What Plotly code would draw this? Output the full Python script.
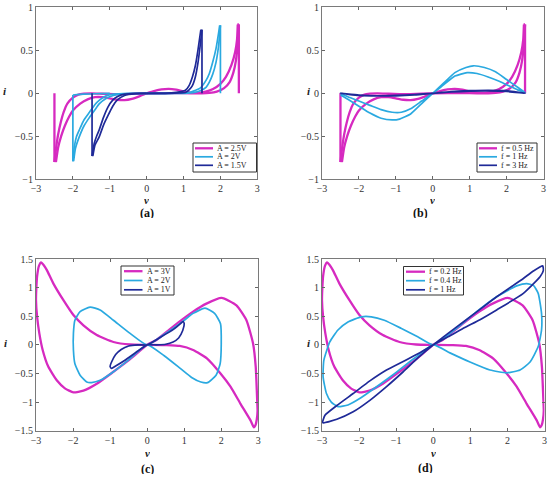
import plotly.graph_objects as go

W, H = 550, 481
MAG, LBL, DBL = '#d62ac0', '#2aa9e0', '#1f2a98'
FONT = 'Liberation Serif'

# ---------------- data ----------------
# Panel (a)/(b): A = 2.5 V, f = 0.5 Hz
m25_v = [-2.5, -2.5, None,
         -2.5, -2.45, -2.4, -2.33, -2.25, -2.15, -2.0, -1.85, -1.7, -1.5, -1.2, -0.9, -0.6, -0.3, 0, None,
         -2.46, -2.4, -2.32, -2.22, -2.1, -2.0, -1.8, -1.6, -1.4, -1.2, -1.0, -0.8, -0.6, -0.4, -0.2, 0, None,
         0, 0.2, 0.4, 0.6, 0.8, 1.0, 1.2, 1.4, 1.6, 1.8, 2.0, 2.15, 2.3, 2.4, 2.45, 2.47, None,
         0, 0.4, 0.8, 1.2, 1.5, 1.7, 1.9, 2.1, 2.25, 2.35, 2.42, 2.47, 2.5, None,
         2.46, 2.5, None, 2.5, 2.5]
m25_i = [0, -0.8, None,
         -0.8, -0.62, -0.48, -0.34, -0.22, -0.12, -0.05, -0.015, -0.005, 0, -0.005, -0.01, -0.01, -0.005, 0, None,
         -0.8, -0.63, -0.5, -0.38, -0.27, -0.2, -0.12, -0.07, -0.045, -0.045, -0.058, -0.075, -0.08, -0.065, -0.035, 0, None,
         0, 0.025, 0.045, 0.052, 0.042, 0.022, 0.008, 0.006, 0.02, 0.05, 0.11, 0.19, 0.33, 0.48, 0.62, 0.8, None,
         0, 0.003, 0.003, 0, 0, 0.005, 0.02, 0.06, 0.13, 0.24, 0.38, 0.58, 0.8, None,
         0.8, 0.8, None, 0.8, 0]

# Panel (a): A = 2 V
a20_v = [-2.0, -2.0, None,
         -2.0, -1.7, -1.4, -1.0, None,
         -2.0, -1.96, -1.9, -1.83, -1.7, -1.55, -1.4, -1.28, -1.1, -0.9, -0.5, 0, None,
         -1.98, -1.93, -1.83, -1.7, -1.55, -1.4, -1.28, -1.1, -0.9, -0.6, 0, None,
         0, 0.5, 1.0, 1.2, 1.45, 1.61, 1.7, 1.79, 1.88, 1.95, 1.98, None,
         0, 0.6, 1.0, 1.3, 1.45, 1.61, 1.7, 1.79, 1.88, 1.95, 2.0, None,
         2.0, 2.0]
a20_i = [-0.02, -0.79, None,
         -0.02, -0.01, -0.005, 0, None,
         -0.79, -0.62, -0.5, -0.43, -0.31, -0.22, -0.13, -0.08, -0.03, -0.01, 0, 0, None,
         -0.79, -0.64, -0.51, -0.38, -0.28, -0.19, -0.12, -0.06, -0.025, -0.005, 0, None,
         0, 0, 0.005, 0.015, 0.06, 0.15, 0.23, 0.36, 0.52, 0.7, 0.79, None,
         0, 0, 0, 0.01, 0.03, 0.07, 0.13, 0.22, 0.36, 0.55, 0.79, None,
         0.79, 0]

# Panel (a): A = 1.5 V
a15_v = [-1.48, -1.48, None,
         -1.48, -1.42, -1.35, -1.29, -1.17, -1.05, -0.92, -0.8, -0.6, -0.3, 0, None,
         -1.46, -1.4, -1.29, -1.17, -1.05, -0.92, -0.8, -0.6, -0.3, 0, None,
         0, 0.5, 0.8, 1.05, 1.15, 1.24, 1.32, 1.39, 1.44, 1.47, None,
         0, 0.6, 0.9, 1.05, 1.15, 1.24, 1.32, 1.39, 1.45, 1.5, None,
         1.5, 1.5]
a15_i = [0, -0.73, None,
         -0.73, -0.58, -0.49, -0.43, -0.28, -0.16, -0.08, -0.04, -0.01, 0, 0, None,
         -0.73, -0.6, -0.51, -0.37, -0.26, -0.15, -0.08, -0.025, -0.005, 0, None,
         0, 0, 0.01, 0.035, 0.09, 0.19, 0.32, 0.5, 0.65, 0.74, None,
         0, 0, 0.005, 0.01, 0.04, 0.09, 0.19, 0.35, 0.55, 0.74, None,
         0.74, 0]

# Panel (b): f = 1 Hz
b1_v = [-2.5, -2.3, -2.0, -1.7, -1.4, -1.1, -0.9, -0.6, -0.3, 0,
        0.3, 0.6, 0.9, 1.1, 1.4, 1.7, 2.0, 2.3, 2.5,
        2.3, 2.1, 1.8, 1.5, 1.2, 0.93, 0.6, 0.3, 0,
        -0.3, -0.6, -0.85, -1.1, -1.4, -1.7, -2.0, -2.3, -2.5]
b1_i = [-0.02, -0.07, -0.15, -0.23, -0.29, -0.31, -0.3, -0.24, -0.12, 0,
        0.12, 0.24, 0.3, 0.32, 0.3, 0.25, 0.16, 0.07, 0.01,
        0.04, 0.08, 0.14, 0.19, 0.23, 0.24, 0.2, 0.1, 0,
        -0.09, -0.18, -0.22, -0.22, -0.19, -0.14, -0.09, -0.04, 0.0]

# Panel (b): f = 3 Hz
b3_v = [-2.5, -2, -1.5, -1, -0.5, 0, 0.5, 1, 1.5, 2, 2.5,
        2, 1.5, 1, 0.5, 0, -0.5, -1, -1.5, -2, -2.5]
b3_i = [0, -0.02, -0.03, -0.03, -0.02, 0, 0.02, 0.03, 0.035, 0.03, 0,
        0.022, 0.028, 0.025, 0.015, 0, -0.015, -0.025, -0.03, -0.025, 0]

# Panels (c)/(d): A = 3 V, f = 0.2 Hz
m3_v = [0, -0.46, -0.91, -1.36, -1.72, -1.99, -2.26, -2.53, -2.71, -2.8, -2.86, -2.92, -2.97, -2.99, -3.0,
        -2.97, -2.91, -2.82, -2.67, -2.44, -2.22, -1.99, -1.72, -1.36, -0.91, -0.46, 0,
        0.26, 0.53, 0.88, 1.24, 1.6, 2.01, 2.41, 2.68, 2.86, 2.93, 2.97, 2.98, 2.96, 2.92, 2.88,
        2.79, 2.52, 2.25, 1.98, 1.62, 1.24, 0.88, 0.53, 0]
m3_i = [0, 0.006, 0.05, 0.17, 0.34, 0.52, 0.78, 1.07, 1.31, 1.4, 1.44, 1.38, 1.2, 1.0, 0.78,
        0.49, 0.2, -0.09, -0.38, -0.62, -0.76, -0.83, -0.8, -0.68, -0.47, -0.25, 0,
        0.09, 0.23, 0.41, 0.58, 0.72, 0.82, 0.69, 0.43, 0.02, -0.38, -0.97, -1.15, -1.3, -1.41, -1.44,
        -1.32, -1.03, -0.73, -0.5, -0.24, -0.09, -0.02, -0.005, 0]

# Panel (c): A = 2 V
c2_v = [0, -0.46, -0.91, -1.27, -1.54, -1.81, -1.95, -1.99, -1.99, -1.95, -1.81, -1.63, -1.5, -1.27, -0.91, -0.46, 0,
        0.46, 0.91, 1.2, 1.45, 1.63, 1.86, 1.97, 2.0, 1.98, 1.82, 1.56, 1.24, 0.98, 0.5, 0]
c2_i = [0, 0.2, 0.43, 0.61, 0.66, 0.58, 0.43, 0.2, -0.09, -0.33, -0.53, -0.65, -0.66, -0.62, -0.47, -0.24, 0,
        -0.19, -0.42, -0.57, -0.65, -0.66, -0.53, -0.33, 0.02, 0.37, 0.55, 0.64, 0.55, 0.42, 0.2, 0]

# Panel (c): A = 1 V
c1_v = [0, -0.25, -0.5, -0.7, -0.85, -0.96, -1.0, -0.96, -0.85, -0.6, -0.3, 0,
        0.25, 0.5, 0.7, 0.85, 0.96, 1.0, 0.97, 0.9, 0.71, 0.35, 0]
c1_i = [0, 0, -0.02, -0.08, -0.17, -0.3, -0.38, -0.41, -0.37, -0.27, -0.13, 0,
        0, 0.01, 0.05, 0.12, 0.25, 0.37, 0.41, 0.37, 0.27, 0.13, 0]

# Panel (d): f = 0.4 Hz
d4_v = [0, -0.42, -0.87, -1.32, -1.67, -1.94, -2.3, -2.57, -2.79, -2.95, -2.97, -2.88, -2.75, -2.57, -2.3, -1.94, -1.5, -1.0, -0.5, 0,
        0.45, 0.99, 1.53, 1.98, 2.34, 2.61, 2.83, 2.92, 2.92, 2.83, 2.7, 2.52, 2.25, 1.71, 1.17, 0.63, 0]
d4_i = [0, 0.14, 0.29, 0.43, 0.49, 0.49, 0.4, 0.26, 0.05, -0.27, -0.56, -0.85, -1.0, -1.08, -1.05, -0.92, -0.72, -0.48, -0.23, 0,
        -0.14, -0.3, -0.44, -0.49, -0.44, -0.3, -0.03, 0.26, 0.55, 0.9, 1.04, 1.07, 1.03, 0.84, 0.58, 0.29, 0]

# Panel (d): f = 1 Hz
d1_v = [-2.98, -2.6, -2.16, -1.71, -1.26, -0.81, -0.4, 0, 0.4, 0.81, 1.26, 1.71, 2.16, 2.43, 2.7, 2.95,
        2.97, 2.88, 2.43, 1.71, 1.26, 0.81, 0.4, 0, -0.4, -0.81, -1.26, -1.71, -2.16, -2.6, -2.92, -2.98]
d1_i = [-1.36, -1.3, -1.17, -0.97, -0.73, -0.47, -0.22, 0, 0.2, 0.4, 0.62, 0.84, 1.04, 1.16, 1.29, 1.38,
        1.3, 1.19, 0.9, 0.61, 0.44, 0.29, 0.14, 0, -0.15, -0.29, -0.44, -0.63, -0.85, -1.06, -1.23, -1.36]

labels_a = ["A = 2.5V", "A = 2V", "A = 1.5V"]
labels_b = ["f = 0.5 Hz", "f = 1 Hz", "f = 3 Hz"]
labels_c = ["A = 3V", "A = 2V", "A = 1V"]
labels_d = ["f = 0.2 Hz", "f = 0.4 Hz", "f = 1 Hz"]
ticks_v = [-3, -2, -1, 0, 1, 2, 3]
ticks_i_ab = [-1, -0.5, 0, 0.5, 1]
ticks_i_cd = [-1.5, -1, -0.5, 0, 0.5, 1, 1.5]
panel_names = ["(a)", "(b)", "(c)", "(d)"]

# ---------------- layout helpers ----------------
def PX(x):
    return x / W


def PY(y):
    return 1 - y / H


boxes = [  # (left, right, top, bottom) in pixels
    (36, 257.3, 7.3, 179.3),
    (322, 543.5, 7.3, 179.3),
    (36, 258.3, 259, 430.7),
    (322, 544.5, 259, 430.7),
]

fig = go.Figure()

colors = [MAG, LBL, DBL]
widths = [2.3, 1.7, 1.7]
panel_data = [
    [(m25_v, m25_i), (a20_v, a20_i), (a15_v, a15_i)],
    [(m25_v, m25_i), (b1_v, b1_i), (b3_v, b3_i)],
    [(m3_v, m3_i), (c2_v, c2_i), (c1_v, c1_i)],
    [(m3_v, m3_i), (d4_v, d4_i), (d1_v, d1_i)],
]

for p, series in enumerate(panel_data):
    xa = 'x' if p == 0 else f'x{p+1}'
    ya = 'y' if p == 0 else f'y{p+1}'
    for k, (vv, ii) in enumerate(series):
        fig.add_trace(go.Scatter(
            x=vv, y=ii, mode='lines', xaxis=xa, yaxis=ya,
            line=dict(color=colors[k], width=widths[k], shape='spline', smoothing=0.5),
            connectgaps=False, showlegend=False, hoverinfo='skip'))

layout = dict(width=W, height=H, margin=dict(l=0, r=0, t=0, b=0, pad=0, autoexpand=False),
              paper_bgcolor='white', plot_bgcolor='white', showlegend=False)

common = dict(ticks='inside', ticklen=3, tickwidth=1, tickcolor='#666',
              mirror='ticks', showline=True, linecolor='#7a7a7a', linewidth=1,
              showgrid=False, zeroline=False, fixedrange=True, automargin=False,
              tickfont=dict(family=FONT, size=10, color='#333'))

for p, (l, r, t, b) in enumerate(boxes):
    sx = '' if p == 0 else str(p + 1)
    yt = ticks_i_ab if p < 2 else ticks_i_cd
    yr = [-1, 1] if p < 2 else [-1.5, 1.5]
    layout['xaxis' + sx] = dict(common, domain=[PX(l), PX(r)], range=[-3, 3],
                                tickvals=ticks_v, anchor='y' + sx)
    layout['yaxis' + sx] = dict(common, domain=[PY(b), PY(t)], range=yr,
                                tickvals=yt, anchor='x' + sx)

fig.update_layout(**layout)

# axis labels and panel captions
xlab_pos = [(146.5, 199), (432.5, 199), (147, 452), (433, 452)]
ylab_pos = [(5, 91), (308.5, 91), (6, 343), (308.5, 343)]
cap_pos = [(147, 212), (420, 212), (147, 468), (425, 467)]
for p in range(4):
    fig.add_annotation(x=PX(xlab_pos[p][0]), y=PY(xlab_pos[p][1]), xref='paper', yref='paper',
                       xanchor='center', yanchor='middle', height=9, valign='middle',
                       text='<b><i>v</i></b>', showarrow=False,
                       font=dict(family=FONT, size=11, color='#222'))
    fig.add_annotation(x=PX(ylab_pos[p][0]), y=PY(ylab_pos[p][1]), xref='paper', yref='paper',
                       xanchor='center', yanchor='middle',
                       text='<b><i>i</i></b>', showarrow=False,
                       font=dict(family=FONT, size=11, color='#222'))
    fig.add_annotation(x=PX(cap_pos[p][0]), y=PY(cap_pos[p][1]), xref='paper', yref='paper',
                       xanchor='center', yanchor='middle', height=11, valign='middle',
                       text='<b>' + panel_names[p] + '</b>', showarrow=False,
                       font=dict(family=FONT, size=12, color='#111'))

# hand-drawn legends (box, line samples, texts)
legend_specs = [
    (labels_a, (193, 256.5, 143, 172), (195, 213, 216), [148.3, 156.8, 165.3]),
    (labels_b, (477, 537, 143, 172), (479, 497, 499.5), [148.3, 156.8, 165.3]),
    (labels_c, (121, 174, 266, 295), (124, 142.5, 145.5), [271.2, 280.5, 289.8]),
    (labels_d, (403.5, 463.5, 266.5, 295), (406, 425, 427.5), [271.7, 280.7, 289.8]),
]
for labels, (bl, br, bt, bb), (l0, l1, tx), ys in legend_specs:
    fig.add_shape(type='rect', xref='paper', yref='paper',
                  x0=PX(bl), x1=PX(br), y0=PY(bb), y1=PY(bt),
                  line=dict(color='#333', width=1), fillcolor='white', layer='above')
    for k, lab in enumerate(labels):
        fig.add_shape(type='line', xref='paper', yref='paper',
                      x0=PX(l0), x1=PX(l1), y0=PY(ys[k]), y1=PY(ys[k]),
                      line=dict(color=colors[k], width=widths[k]), layer='above')
        fig.add_annotation(x=PX(tx), y=PY(ys[k]), xref='paper', yref='paper',
                           text=lab, showarrow=False, xanchor='left', yanchor='middle',
                           borderpad=0, font=dict(family=FONT, size=8, color='#222'))

fig.write_html("out.html", config={'displayModeBar': False},
               post_script="document.body.style.margin='0';")
